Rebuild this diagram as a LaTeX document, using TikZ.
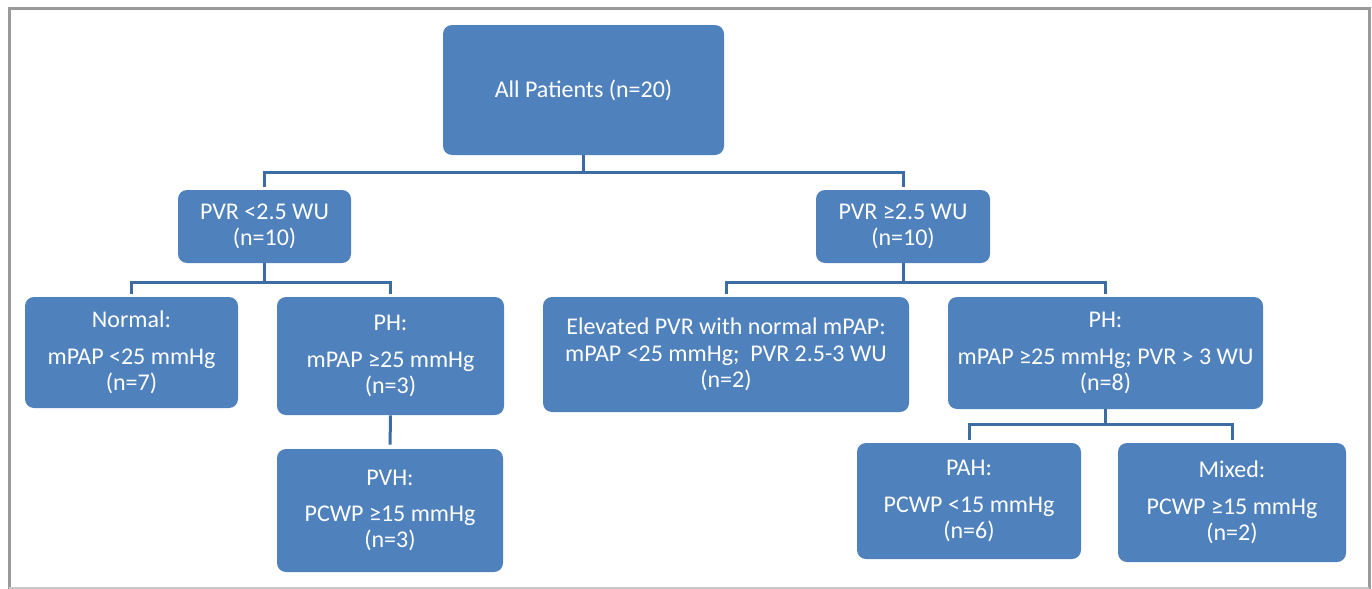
\documentclass[tikz,border=0pt]{standalone}
\usepackage{fontspec}
\setmainfont{Carlito}
\definecolor{boxblue}{HTML}{4F81BD}
\definecolor{linkblue}{HTML}{3D6CA3}
\definecolor{framegray}{HTML}{9A9A9A}
\definecolor{edgegray}{HTML}{C8C8C8}
\begin{document}
\begin{tikzpicture}[x=0.5pt,y=-0.5pt,
  box/.style={draw=none,fill=boxblue,rounded corners=4.5pt,text=white,align=center,
    font=\fontsize{12}{13.2}\selectfont,inner sep=0pt},
  link/.style={draw=linkblue,line width=1.5pt}]
\useasboundingbox (0,0) rectangle (1372,589);
\draw[framegray,line width=1.5pt] (9,589) -- (9,8) -- (1369,8) -- (1369,589);
\draw[edgegray,line width=0.6pt] (9,588) -- (1369,588);
% nodes
\node[box,minimum width=140.5pt,minimum height=65pt] (A) at (583.5,90) {All Patients (n=20)};
\node[box,minimum width=86.5pt,minimum height=36.5pt] (B1) at (264.5,226.5) {PVR <2.5 WU\\(n=10)};
\node[box,minimum width=87pt,minimum height=36.5pt] (B2) at (903,226.5) {PVR ≥2.5 WU\\(n=10)};
\node[box,minimum width=106.5pt,minimum height=55.5pt] (C1) at (131.5,352.5) {Normal:\\[5pt]mPAP <25 mmHg\\(n=7)};
\node[box,minimum width=113.5pt,minimum height=59pt] (C2) at (390.5,356) {PH:\\[5pt]mPAP ≥25 mmHg\\(n=3)};
\node[box,minimum width=183pt,minimum height=57.5pt] (C3) at (726,354.5) {Elevated PVR with normal mPAP:\\mPAP <25 mmHg;\ \ PVR 2.5-3 WU\\(n=2)};
\node[box,minimum width=157.5pt,minimum height=56pt] (C4) at (1105.5,353) {PH:\\[5pt]mPAP ≥25 mmHg; PVR > 3 WU\\(n=8)};
\node[box,minimum width=113pt,minimum height=61.5pt] (D1) at (390,510.5) {PVH:\\[5pt]PCWP ≥15 mmHg\\(n=3)};
\node[box,minimum width=112pt,minimum height=58pt] (E1) at (969,501) {PAH:\\[5pt]PCWP <15 mmHg\\(n=6)};
\node[box,minimum width=114pt,minimum height=59.5pt] (E2) at (1232,502.5) {Mixed:\\[5pt]PCWP ≥15 mmHg\\(n=2)};
% connectors
\draw[link,shorten >=1.5pt] (A.south) -- ++(0,17) -| (B1.north);
\draw[link,shorten >=1.5pt] (A.south) -- ++(0,17) -| (B2.north);
\draw[link,shorten >=1.5pt] (B1.south) -- ++(0,19) -| (C1.north);
\draw[link,shorten >=1.5pt] (B1.south) -- ++(0,19) -| (C2.north);
\draw[link,shorten >=1.5pt] (B2.south) -- ++(0,19) -| (C3.north);
\draw[link,shorten >=1.5pt] (B2.south) -- ++(0,19) -| (C4.north);
\draw[link,shorten >=2pt] (C2.south) -- (D1.north);
\draw[link,shorten >=1.5pt] (C4.south) -- ++(0,15) -| (E1.north);
\draw[link,shorten >=1.5pt] (C4.south) -- ++(0,15) -| (E2.north);
\end{tikzpicture}
\end{document}
